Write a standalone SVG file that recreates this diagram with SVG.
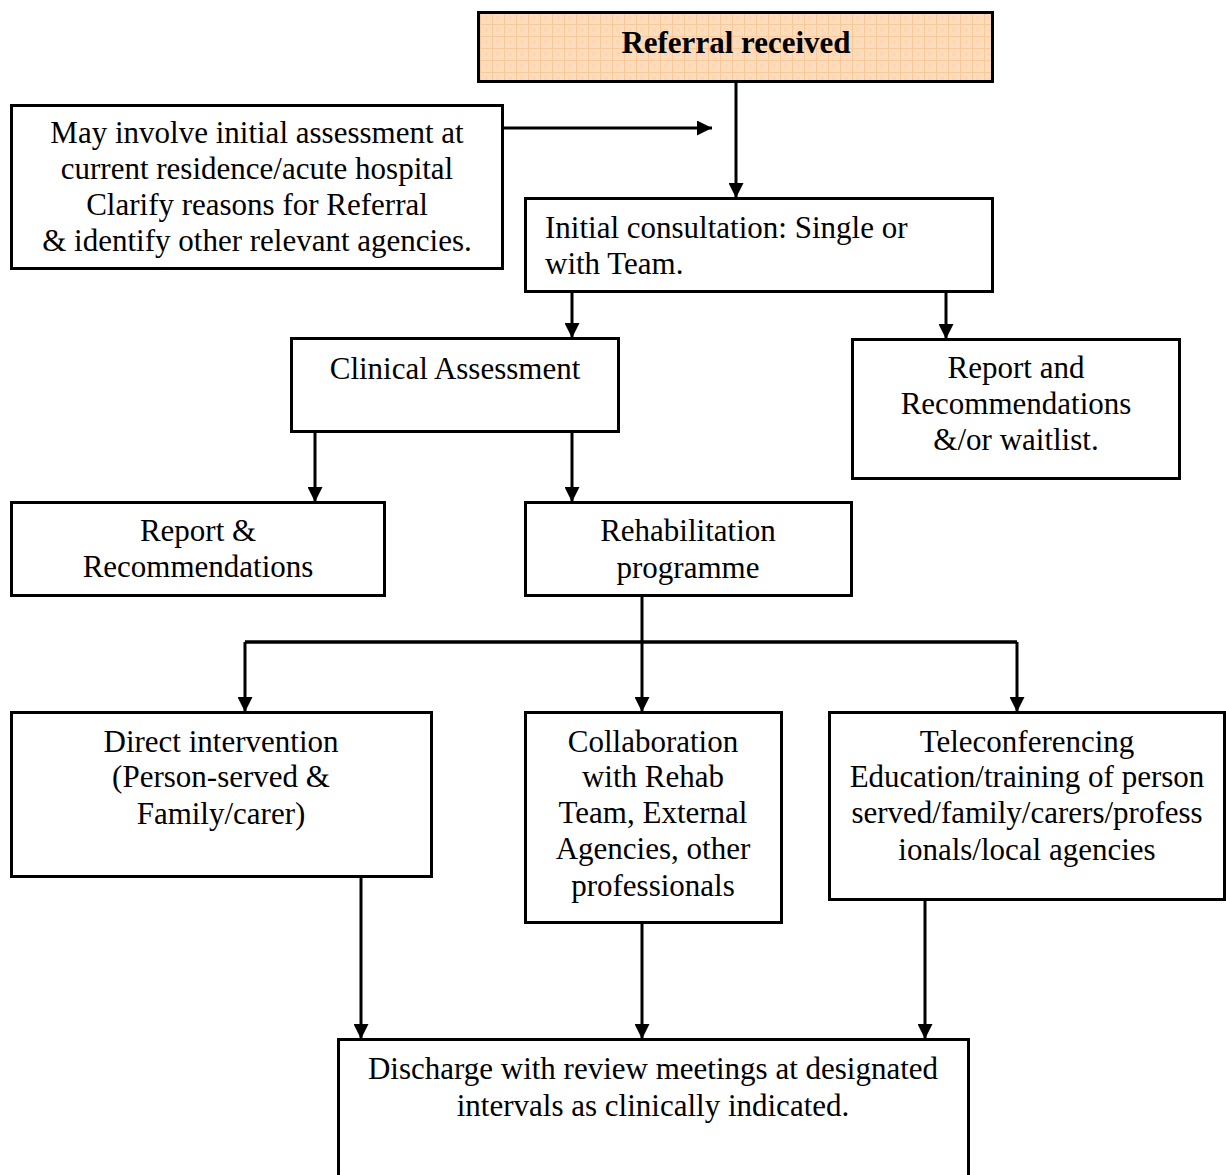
<svg xmlns="http://www.w3.org/2000/svg" width="1226" height="1175" viewBox="0 0 1226 1175">
<style>
.box{fill:#fff;stroke:#000;stroke-width:3}
.t{font-family:"Liberation Serif","Times New Roman",serif;font-size:31px;fill:#000}
.c{text-anchor:middle}
.b{font-weight:bold}
.ln{fill:none;stroke:#000;stroke-width:3}
</style>
<defs>
<pattern id="grid" width="12" height="12" patternUnits="userSpaceOnUse">
<rect width="12" height="12" fill="#fddcbb"/>
<path d="M0 0.5H12M0.5 0V12" stroke="#f8c99b" stroke-width="1"/>
<rect x="4" y="4" width="4" height="4" fill="#fbd3ad" opacity="0.6"/>
</pattern>
<marker id="ah" viewBox="0 0 10 10" refX="10" refY="5" markerWidth="5" markerHeight="5" orient="auto" markerUnits="strokeWidth">
<path d="M0 0L10 5L0 10z" fill="#000"/>
</marker>
</defs>
<g id="connectors">
<path class="ln" d="M736 82V198" marker-end="url(#ah)"/>
<path class="ln" d="M503 128H712" marker-end="url(#ah)"/>
<path class="ln" d="M572 292V338" marker-end="url(#ah)"/>
<path class="ln" d="M946 292V339" marker-end="url(#ah)"/>
<path class="ln" d="M315 432V502" marker-end="url(#ah)"/>
<path class="ln" d="M572 432V502" marker-end="url(#ah)"/>
<path class="ln" d="M642 596V642"/>
<path class="ln" d="M245 642H1017" style="stroke-width:3.5"/>
<path class="ln" d="M245 642V712" marker-end="url(#ah)"/>
<path class="ln" d="M642 642V712" marker-end="url(#ah)"/>
<path class="ln" d="M1017 642V712" marker-end="url(#ah)"/>
<path class="ln" d="M361 877V1039" marker-end="url(#ah)"/>
<path class="ln" d="M642 923V1039" marker-end="url(#ah)"/>
<path class="ln" d="M925 900V1039" marker-end="url(#ah)"/>
</g>
<g id="referral">
<rect x="478.5" y="12.5" width="514" height="69" fill="url(#grid)" stroke="#000" stroke-width="3"/>
<text class="t c b" x="736" y="53">Referral received</text>
</g>
<g id="initial-assessment">
<rect class="box" x="11.5" y="105.5" width="491" height="163"/>
<text class="t c" x="257"><tspan x="257" y="143">May involve initial assessment at</tspan><tspan x="257" y="179">current residence/acute hospital</tspan><tspan x="257" y="215">Clarify reasons for Referral</tspan><tspan x="257" y="251">&amp; identify other relevant agencies.</tspan></text>
</g>
<g id="initial-consultation">
<rect class="box" x="525.5" y="198.5" width="467" height="93"/>
<text class="t"><tspan x="545" y="238">Initial consultation: Single or</tspan><tspan x="545" y="274">with Team.</tspan></text>
</g>
<g id="clinical-assessment">
<rect class="box" x="291.5" y="338.5" width="327" height="93"/>
<text class="t c" x="455" y="379">Clinical Assessment</text>
</g>
<g id="report-waitlist">
<rect class="box" x="852.5" y="339.5" width="327" height="139"/>
<text class="t c"><tspan x="1016" y="378">Report and</tspan><tspan x="1016" y="414">Recommendations</tspan><tspan x="1016" y="450">&amp;/or waitlist.</tspan></text>
</g>
<g id="report-recommendations">
<rect class="box" x="11.5" y="502.5" width="373" height="93"/>
<text class="t c"><tspan x="198" y="541">Report &amp;</tspan><tspan x="198" y="577">Recommendations</tspan></text>
</g>
<g id="rehabilitation">
<rect class="box" x="525.5" y="502.5" width="326" height="93"/>
<text class="t c"><tspan x="688" y="541">Rehabilitation</tspan><tspan x="688" y="578">programme</tspan></text>
</g>
<g id="direct-intervention">
<rect class="box" x="11.5" y="712.5" width="420" height="164"/>
<text class="t c"><tspan x="221" y="752">Direct intervention</tspan><tspan x="221" y="787">(Person-served &amp;</tspan><tspan x="221" y="824">Family/carer)</tspan></text>
</g>
<g id="collaboration">
<rect class="box" x="525.5" y="712.5" width="256" height="210"/>
<text class="t c"><tspan x="653" y="752">Collaboration</tspan><tspan x="653" y="787">with Rehab</tspan><tspan x="653" y="823">Team, External</tspan><tspan x="653" y="859">Agencies, other</tspan><tspan x="653" y="896">professionals</tspan></text>
</g>
<g id="teleconferencing">
<rect class="box" x="829.5" y="712.5" width="395" height="187"/>
<text class="t c"><tspan x="1027" y="752">Teleconferencing</tspan><tspan x="1027" y="787">Education/training of person</tspan><tspan x="1027" y="823">served/family/carers/profess</tspan><tspan x="1027" y="860">ionals/local agencies</tspan></text>
</g>
<g id="discharge">
<rect class="box" x="338.5" y="1039.5" width="630" height="150"/>
<text class="t c"><tspan x="653" y="1079">Discharge with review meetings at designated</tspan><tspan x="653" y="1116">intervals as clinically indicated.</tspan></text>
</g>
</svg>
